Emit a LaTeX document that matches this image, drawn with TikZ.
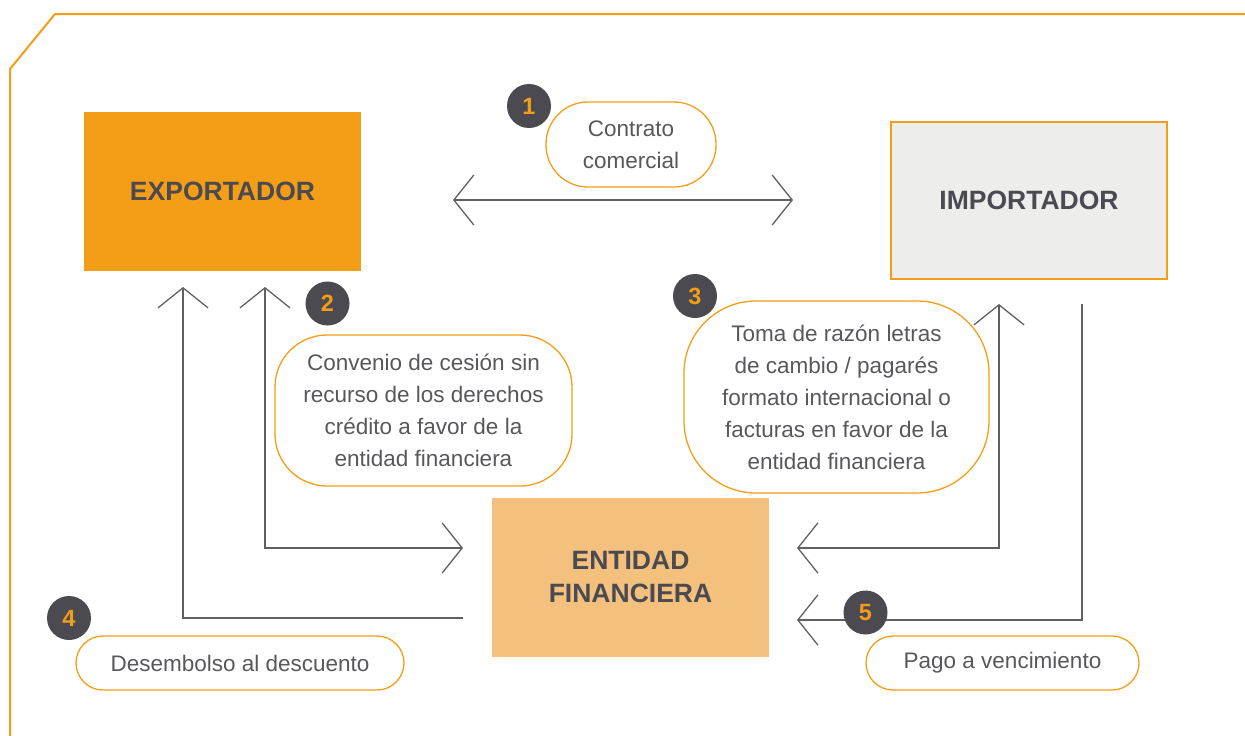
\documentclass[tikz,border=0pt]{standalone}
\usepackage{fontspec}
\setmainfont{Liberation Sans}
\usetikzlibrary{arrows.meta}
\definecolor{orng}{RGB}{243,158,22}
\definecolor{lorng}{RGB}{243,192,125}
\definecolor{lgray}{RGB}{237,237,235}
\definecolor{dgray}{RGB}{74,74,80}
\definecolor{tgray}{RGB}{88,88,92}
\definecolor{lgcol}{RGB}{95,95,100}
\tikzset{
  bigbox/.style={rectangle, minimum width=277pt, minimum height=159pt, inner sep=0pt,
    text=dgray, align=center, font=\fontsize{26.5}{33}\selectfont\bfseries},
  bubble/.style={rectangle, draw=orng, line width=1.3pt, inner sep=0pt, text=tgray,
    align=center, font=\fontsize{22.5}{32}\selectfont},
  numc/.style={circle, fill=dgray, minimum size=44pt, inner sep=0pt, text=orng,
    font=\fontsize{23.5}{23.5}\selectfont\bfseries},
  conn/.style={draw=lgcol, line width=1.3pt},
  mybarb/.tip={Straight Barb[length=20pt, width=50pt]}
}
\begin{document}
\begin{tikzpicture}[x=1pt,y=-1pt]
\useasboundingbox (0,0) rectangle (1245,736);
% frame
\draw[orng, line width=2pt] (10,737) -- (10,69) -- (55,14) -- (1246,14);

% main boxes
\node[bigbox, fill=orng] (exp) at (222.5,191.5) {EXPORTADOR};
\node[bigbox, fill=lgray, draw=orng, line width=1.2pt, minimum width=276pt, minimum height=157pt] (imp) at (1029,200.5) {IMPORTADOR};
\node[bigbox, fill=lorng] (ent) at (630.5,577.5) {ENTIDAD\\FINANCIERA};

% bubbles
\node[bubble, rounded corners=42pt, minimum width=170pt, minimum height=85pt] (b1) at (631,144.5) {Contrato\\comercial};
\node[bubble, rounded corners=52pt, minimum width=297pt, minimum height=151pt] (b2) at (423.5,410.5) {Convenio de cesión sin\\recurso de los derechos\\crédito a favor de la\\entidad financiera};
\node[bubble, rounded corners=72pt, minimum width=305pt, minimum height=192pt] (b3) at (836.5,397) {Toma de razón letras\\de cambio / pagarés\\formato internacional o\\facturas en favor de la\\entidad financiera};
\node[bubble, rounded corners=27pt, minimum width=328pt, minimum height=54pt] (b4) at (240,663) {Desembolso al descuento};
\node[bubble, rounded corners=27pt, minimum width=273pt, minimum height=54pt] (b5) at (1002.5,663) {Pago a vencimiento};

% connector end points
\coordinate (c1a) at (453,200);
\coordinate (c1b) at (793,200);
\coordinate (c2a) at (265,287);
\coordinate (c2k) at (265,548);
\coordinate (c2b) at (463,548);
\coordinate (c3a) at (797,548);
\coordinate (c3k) at (999,548);
\coordinate (c3b) at (999,304);
\coordinate (c4a) at (463,618);
\coordinate (c4k) at (183,618);
\coordinate (c4b) at (183,287);
\coordinate (c5a) at (1082,304);
\coordinate (c5k) at (1082,620);
\coordinate (c5b) at (797,620);

\draw[conn, mybarb-mybarb] (c1a) -- (c1b);
\draw[conn, mybarb-mybarb] (c2a) -- (c2k) -- (c2b);
\draw[conn, mybarb-mybarb] (c3a) -- (c3k) -- (c3b);
\draw[conn, -mybarb] (c4a) -- (c4k) -- (c4b);
\draw[conn, -mybarb] (c5a) -- (c5k) -- (c5b);

% number circles
\node[numc] (n1) at (529,106) {1};
\node[numc] (n2) at (327.5,303.5) {2};
\node[numc] (n3) at (695,296) {3};
\node[numc] (n4) at (69,618) {4};
\node[numc] (n5) at (865.5,612.5) {5};
\end{tikzpicture}
\end{document}
